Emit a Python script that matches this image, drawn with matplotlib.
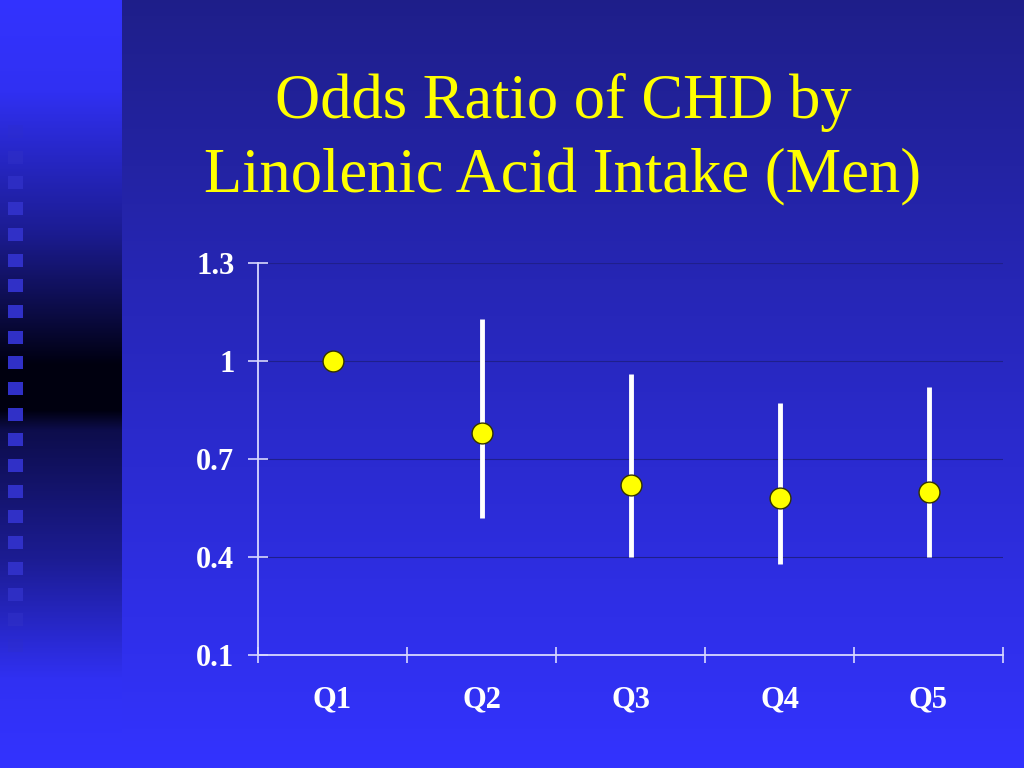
import numpy as np
import matplotlib
matplotlib.use("Agg")
import matplotlib.pyplot as plt

categories = ["Q1", "Q2", "Q3", "Q4", "Q5"]
odds = [1.0, 0.78, 0.62, 0.58, 0.60]
upper = [np.nan, 1.13, 0.96, 0.87, 0.92]
lower = [np.nan, 0.52, 0.40, 0.38, 0.40]
yticks = [0.1, 0.4, 0.7, 1.0, 1.3]
ytick_labels = ["0.1", "0.4", "0.7", "1", "1.3"]
title_lines = ["Odds Ratio of CHD by", "Linolenic Acid Intake (Men)"]

W, H = 1024, 768
fig = plt.figure(figsize=(W / 100, H / 100), dpi=100)

# ---- background ----
bg = fig.add_axes([0, 0, 1, 1], zorder=-10)
bg.set_xlim(0, W)
bg.set_ylim(H, 0)
bg.axis("off")
yy = np.linspace(0, 1, 400)[:, None]
top = np.array([0.12, 0.12, 0.54])
bot = np.array([0.20, 0.20, 1.00])
main = top + (bot - top) * yy
img = np.repeat(main[:, None, :], 2, axis=1).reshape(400, 2, 3)
bg.imshow(img, extent=[0, W, H, 0], aspect="auto", interpolation="bilinear")

# left strip gradient: bright at top, black band ~365-410, bright at bottom
ys = np.linspace(0, H, 768)
stops_y = [0, 90, 230, 330, 365, 410, 430, 560, 680, 768]
stops_f = [1.0, 0.95, 0.55, 0.15, 0.0, 0.0, 0.25, 0.55, 0.95, 1.0]
f = np.interp(ys, stops_y, stops_f)
blue = np.array([0.20, 0.20, 1.0])
dark = np.array([0.0, 0.0, 0.06])
strip = dark + (blue - dark) * f[:, None]
strip_img = strip[:, None, :]
bg.imshow(strip_img, extent=[0, 122, H, 0], aspect="auto", interpolation="bilinear", zorder=1)

# squares pattern
sq_y = np.arange(125, 650, 25.7)
for y0 in sq_y:
    edge = min(y0 - 110, 660 - y0)
    alpha = float(np.clip(edge / 80.0, 0.15, 1.0))
    bg.add_patch(plt.Rectangle((8, y0), 15, 13, color=(0.19, 0.19, 0.78), alpha=alpha, lw=0, zorder=3))

# ---- title ----
for line, base in zip(title_lines, [118, 192]):
    fig.text(563 / W, 1 - base / H, line, ha="center", va="baseline", color="#ffff00",
             fontsize=45, family="Liberation Serif")

# ---- chart axes ----
x0, x1, y0p, y1p = 258, 1003, 263, 655
ax = fig.add_axes([x0 / W, 1 - y1p / H, (x1 - x0) / W, (y1p - y0p) / H])
ax.patch.set_alpha(0)
ax.set_xlim(0, 5)
ax.set_ylim(0.1, 1.3)

xpos = np.arange(len(categories)) + 0.5
for yt in yticks[1:]:
    ax.axhline(yt, color=(0.12, 0.12, 0.55), lw=0.8, zorder=0)

lo = np.array(odds) - np.array(lower)
hi = np.array(upper) - np.array(odds)
ax.errorbar(xpos, odds, yerr=[lo, hi], fmt="none", ecolor="white", elinewidth=3.5, capsize=0, zorder=2)
ax.plot(xpos, odds, "o", ms=15, mfc="#ffff00", mec="#333300", mew=1.0, zorder=3)

for s in ["top", "right"]:
    ax.spines[s].set_visible(False)
for s in ["left", "bottom"]:
    ax.spines[s].set_color("#d8d8ff")
    ax.spines[s].set_linewidth(1.3)

ax.set_yticks(yticks)
ax.set_yticklabels(ytick_labels)
ax.set_xticks(np.arange(0, 6))
ax.set_xticklabels([])
ax.set_xticks(xpos, minor=True)
ax.set_xticklabels(categories, minor=True)
ax.tick_params(axis="y", direction="inout", length=14, width=1.2, color="#d8d8ff",
               labelcolor="white", labelsize=22, pad=10)
ax.tick_params(axis="x", which="major", direction="inout", length=12, width=1.2, color="#d8d8ff")
ax.tick_params(axis="x", which="minor", length=0, labelcolor="white", labelsize=22, pad=22)
for lab in ax.get_yticklabels() + ax.get_xticklabels(minor=True):
    lab.set_family("Liberation Serif")
    lab.set_fontweight("bold")

fig.savefig("out.png", dpi=100)
